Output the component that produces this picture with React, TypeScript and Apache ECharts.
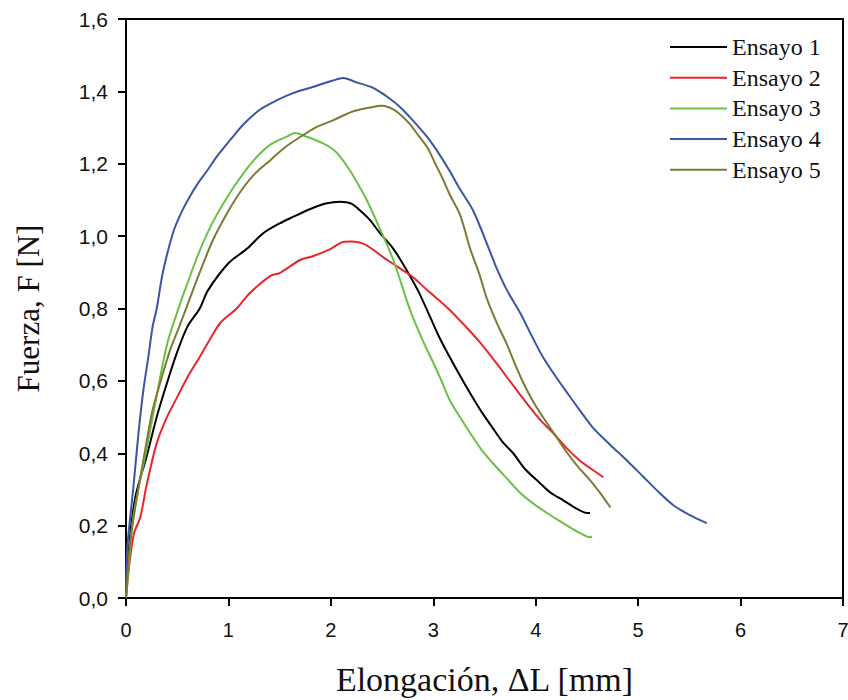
import React, { useEffect, useRef } from "react";
import * as echarts from "echarts";

const seriesNames = ["Ensayo 1", "Ensayo 2", "Ensayo 3", "Ensayo 4", "Ensayo 5"];
const seriesColors = ["#000000", "#e8262b", "#6cc04a", "#3a55a4", "#7f7a33"];

const ensayo1: number[][] = [
  [0, 0], [0.02, 0.1], [0.05, 0.2], [0.1, 0.29], [0.2, 0.39], [0.3, 0.5], [0.4, 0.594], [0.5, 0.68],
  [0.6, 0.75], [0.72, 0.8], [0.8, 0.85], [1.0, 0.925], [1.18, 0.965], [1.34, 1.008], [1.5, 1.035],
  [1.63, 1.053], [1.8, 1.075], [1.95, 1.09], [2.09, 1.095], [2.2, 1.09], [2.28, 1.072], [2.38, 1.045],
  [2.48, 1.008], [2.61, 0.965], [2.74, 0.906], [2.85, 0.85], [2.97, 0.776], [3.06, 0.72], [3.16, 0.666],
  [3.26, 0.615], [3.36, 0.566], [3.47, 0.515], [3.58, 0.47], [3.68, 0.43], [3.78, 0.4], [3.9, 0.355],
  [4.04, 0.318], [4.15, 0.29], [4.27, 0.27], [4.38, 0.25], [4.5, 0.235], [4.53, 0.235],
];

const ensayo2: number[][] = [
  [0, 0], [0.04, 0.11], [0.08, 0.18], [0.14, 0.224], [0.2, 0.31], [0.3, 0.428], [0.4, 0.5], [0.5, 0.555],
  [0.6, 0.61], [0.72, 0.666], [0.82, 0.715], [0.92, 0.76], [1.08, 0.8], [1.21, 0.843], [1.41, 0.89],
  [1.5, 0.898], [1.7, 0.934], [1.83, 0.945], [2.0, 0.965], [2.12, 0.984], [2.2, 0.985], [2.31, 0.98],
  [2.4, 0.965], [2.51, 0.942], [2.6, 0.925], [2.7, 0.906], [2.8, 0.887], [2.94, 0.851], [3.13, 0.804],
  [3.3, 0.755], [3.46, 0.705], [3.6, 0.655], [3.72, 0.61], [3.84, 0.565], [3.94, 0.528], [4.05, 0.49],
  [4.17, 0.456], [4.3, 0.415], [4.43, 0.38], [4.55, 0.355], [4.66, 0.334],
];

const ensayo3: number[][] = [
  [0, 0], [0.03, 0.1], [0.06, 0.2], [0.1, 0.27], [0.2, 0.41], [0.3, 0.56], [0.4, 0.7], [0.5, 0.79],
  [0.6, 0.87], [0.72, 0.96], [0.85, 1.04], [1.015, 1.12], [1.15, 1.175], [1.28, 1.22], [1.42, 1.255],
  [1.57, 1.275], [1.65, 1.285], [1.77, 1.274], [1.92, 1.257], [2.02, 1.24], [2.09, 1.22], [2.19, 1.18],
  [2.28, 1.136], [2.35, 1.1], [2.48, 1.02], [2.61, 0.934], [2.74, 0.823], [2.8, 0.776], [2.9, 0.71],
  [3.0, 0.65], [3.08, 0.6], [3.16, 0.547], [3.26, 0.5], [3.36, 0.456], [3.47, 0.41], [3.58, 0.373],
  [3.72, 0.33], [3.85, 0.29], [3.98, 0.26], [4.11, 0.235], [4.22, 0.215], [4.33, 0.196], [4.43, 0.18],
  [4.53, 0.168], [4.55, 0.17],
];

const ensayo4: number[][] = [
  [0, 0], [0.01, 0.13], [0.04, 0.22], [0.07, 0.3], [0.12, 0.45], [0.17, 0.575], [0.22, 0.67], [0.26, 0.75],
  [0.3, 0.8], [0.36, 0.9], [0.46, 1.01], [0.54, 1.065], [0.625, 1.11], [0.7, 1.145], [0.79, 1.18],
  [0.9, 1.225], [1.015, 1.265], [1.15, 1.31], [1.31, 1.35], [1.47, 1.375], [1.63, 1.395], [1.8, 1.41],
  [2.02, 1.43], [2.12, 1.437], [2.25, 1.425], [2.41, 1.41], [2.55, 1.385], [2.675, 1.357], [2.8, 1.32],
  [2.94, 1.274], [3.05, 1.23], [3.16, 1.18], [3.26, 1.13], [3.39, 1.07], [3.55, 0.96], [3.62, 0.91],
  [3.72, 0.85], [3.85, 0.787], [3.96, 0.725], [4.07, 0.666], [4.2, 0.61], [4.31, 0.566], [4.44, 0.515],
  [4.56, 0.47], [4.72, 0.425], [4.89, 0.38], [5.05, 0.335], [5.21, 0.29], [5.35, 0.255], [5.5, 0.23],
  [5.67, 0.207],
];

const ensayo5: number[][] = [
  [0, 0], [0.04, 0.15], [0.09, 0.25], [0.14, 0.334], [0.2, 0.43], [0.26, 0.52], [0.35, 0.61], [0.43, 0.685],
  [0.52, 0.75], [0.6, 0.81], [0.72, 0.9], [0.85, 0.99], [0.98, 1.06], [1.11, 1.12], [1.25, 1.17],
  [1.41, 1.21], [1.55, 1.245], [1.7, 1.274], [1.85, 1.3], [2.02, 1.32], [2.22, 1.345], [2.41, 1.357],
  [2.5, 1.36], [2.61, 1.35], [2.7, 1.33], [2.77, 1.31], [2.85, 1.28], [2.94, 1.246], [3.02, 1.2],
  [3.09, 1.16], [3.16, 1.115], [3.26, 1.06], [3.36, 0.965], [3.45, 0.895], [3.52, 0.83], [3.62, 0.76],
  [3.72, 0.7], [3.8, 0.645], [3.88, 0.594], [3.97, 0.545], [4.07, 0.5], [4.19, 0.45], [4.31, 0.4],
  [4.42, 0.36], [4.53, 0.326], [4.63, 0.29], [4.73, 0.25],
];

const allData = [ensayo1, ensayo2, ensayo3, ensayo4, ensayo5];

const xTitle = "Elongación, ΔL [mm]";
const yTitle = "Fuerza, F [N]";

export default function App() {
  const ref = useRef<HTMLDivElement>(null);
  useEffect(() => {
    document.body.style.margin = "0";
    if (!ref.current) return;
    const chart = echarts.init(ref.current, undefined, { renderer: "svg" });
    const tickFont = "'Liberation Sans Narrow', 'Liberation Sans', Arial, sans-serif";
    const serif = "'Liberation Serif', 'Times New Roman', serif";
    chart.setOption({
      animation: false,
      backgroundColor: "#ffffff",
      grid: {
        left: 126, right: 5, top: 19, bottom: 102,
        outerBoundsMode: "none",
        containLabel: false,
        show: true, borderColor: "#000", borderWidth: 2, backgroundColor: "transparent",
      },
      legend: {
        orient: "vertical",
        left: 670,
        top: 35,
        itemWidth: 57,
        itemHeight: 2,
        itemGap: 6.7,
        icon: "rect",
        padding: 0,
        textStyle: { fontFamily: serif, fontSize: 24, color: "#111", lineHeight: 24 },
        data: seriesNames,
      },
      xAxis: {
        type: "value",
        min: 0, max: 7, interval: 1,
        name: xTitle,
        nameLocation: "middle",
        nameGap: 66,
        nameTextStyle: { fontFamily: serif, fontSize: 34, color: "#111", lineHeight: 30 },
        axisLine: { show: true, onZero: false, lineStyle: { color: "#000", width: 2 } },
        axisTick: { show: true, length: 8, lineStyle: { color: "#000", width: 2 } },
        axisLabel: { fontFamily: tickFont, fontSize: 20, color: "#111", margin: 22 },
        splitLine: { show: false },
      },
      yAxis: {
        type: "value",
        min: 0, max: 1.6, interval: 0.2,
        name: yTitle,
        nameLocation: "middle",
        nameGap: 83,
        nameTextStyle: { fontFamily: serif, fontSize: 31, color: "#111", lineHeight: 30 },
        axisLine: { show: true, onZero: false, lineStyle: { color: "#000", width: 2 } },
        axisTick: { show: true, length: 8, lineStyle: { color: "#000", width: 2 } },
        axisLabel: {
          fontFamily: tickFont, fontSize: 21, color: "#111", margin: 18,
          formatter: (v: number) => v.toFixed(1).replace(".", ","),
        },
        splitLine: { show: false },
      },
      series: allData.map((d, i) => ({
        name: seriesNames[i],
        type: "line",
        data: d,
        showSymbol: false,
        smooth: 0.3,
        color: seriesColors[i],
        lineStyle: { color: seriesColors[i], width: 2 },
      })),
    });
    return () => chart.dispose();
  }, []);
  return <div ref={ref} style={{ width: 848, height: 700 }} />;
}
